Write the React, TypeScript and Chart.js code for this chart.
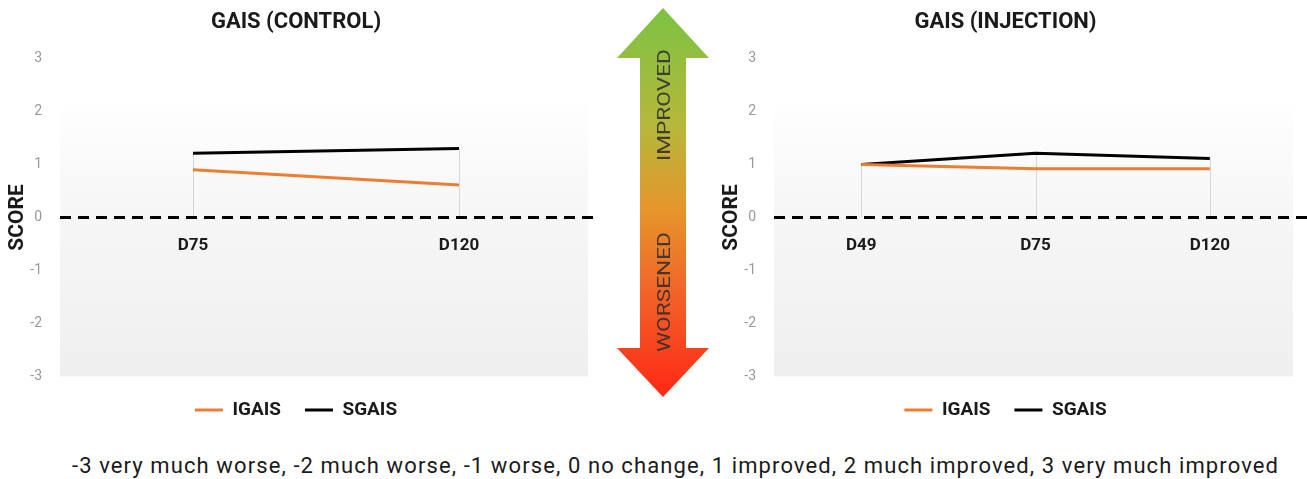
import React, { useEffect, useRef } from 'react';
import { Chart, registerables } from 'chart.js';

Chart.register(...registerables);

// ---- data ----
const controlDays = ['D75', 'D120'];
const controlIGAIS = [0.9, 0.61];
const controlSGAIS = [1.21, 1.3];

const injectionDays = ['D49', 'D75', 'D120'];
const injectionIGAIS = [1.0, 0.92, 0.92];
const injectionSGAIS = [1.0, 1.21, 1.11];

const seriesNames = ['IGAIS', 'SGAIS'];
const seriesColors = ['#ED7D31', '#000000'];
const yMin = -3;
const yMax = 3;
const yStep = 1;

const titles = ['GAIS (CONTROL)', 'GAIS (INJECTION)'];
const yTitle = 'SCORE';
const arrowUpText = 'IMPROVED';
const arrowDownText = 'WORSENED';
const footnote =
  '-3 very much worse, -2 much worse, -1 worse, 0 no change, 1 improved, 2 much improved, 3 very much improved';

const FONT = 'Roboto, "DejaVu Sans Condensed", sans-serif';

const decorPlugin = {
  id: 'decor',
  beforeDraw(chart: any) {
    const { ctx, chartArea, scales } = chart;
    const y = scales.y;
    const top = y.getPixelForValue(2.3);
    const zero = y.getPixelForValue(0);
    const g = ctx.createLinearGradient(0, top, 0, chartArea.bottom);
    g.addColorStop(0, '#ffffff');
    g.addColorStop(Math.max(0.01, (zero - top) / (chartArea.bottom - top)), '#f6f6f6');
    g.addColorStop(1, '#efefef');
    ctx.save();
    ctx.fillStyle = g;
    ctx.fillRect(chartArea.left, top, chartArea.right - chartArea.left - 4, chartArea.bottom - top);
    ctx.restore();
  },
  beforeDatasetsDraw(chart: any) {
    const { ctx, chartArea, scales, data } = chart;
    const x = scales.x;
    const y = scales.y;
    const zero = y.getPixelForValue(0);
    ctx.save();
    ctx.strokeStyle = '#d6d6d6';
    ctx.lineWidth = 1;
    data.labels.forEach((_: any, i: number) => {
      const maxV = Math.max(...data.datasets.map((d: any) => d.data[i]));
      const px = Math.round(x.getPixelForValue(i)) + 0.5;
      ctx.beginPath();
      ctx.moveTo(px, y.getPixelForValue(maxV));
      ctx.lineTo(px, zero);
      ctx.stroke();
    });
    ctx.strokeStyle = '#000';
    ctx.lineWidth = 3;
    ctx.setLineDash([11, 7]);
    ctx.beginPath();
    ctx.moveTo(chartArea.left, zero);
    ctx.lineTo(chart.width, zero);
    ctx.stroke();
    ctx.restore();
  },
};

function GaisChart(props: {
  title: string;
  labels: string[];
  igais: number[];
  sgais: number[];
  width: number;
  height: number;
  padRight: number;
}) {
  const ref = useRef<HTMLCanvasElement | null>(null);
  useEffect(() => {
    if (!ref.current) return;
    const values = [props.igais, props.sgais];
    const chart = new Chart(ref.current, {
      type: 'line',
      data: {
        labels: props.labels,
        datasets: seriesNames.map((name, i) => ({
          label: name,
          data: values[i],
          borderColor: seriesColors[i],
          backgroundColor: seriesColors[i],
          borderWidth: 3,
          pointRadius: 0,
          tension: 0,
        })),
      },
      options: {
        responsive: false,
        animation: false,
        events: [],
        layout: { padding: { left: 0, right: props.padRight, top: 0, bottom: 0.5 } },
        plugins: {
          tooltip: { enabled: false },
          title: {
            display: true,
            text: props.title,
            color: '#1a1a1a',
            font: { family: FONT, size: 22, weight: 'bold' },
            padding: { top: 9, bottom: 23 },
          },
          legend: {
            position: 'bottom',
            labels: {
              usePointStyle: true,
              pointStyle: 'line',
              pointStyleWidth: 28,
              padding: 24,
              color: '#1a1a1a',
              font: { family: FONT, size: 19, weight: 'bold' },
            },
          },
        },
        scales: {
          x: {
            type: 'category',
            position: { y: 0 } as any,
            offset: true,
            grid: { display: false, drawTicks: false },
            border: { display: false },
            ticks: {
              color: '#1a1a1a',
              padding: 18,
              font: { family: FONT, size: 17, weight: 'bold' },
            },
          },
          y: {
            min: yMin,
            max: yMax,
            grid: { display: false, drawTicks: false },
            border: { display: false },
            afterFit: (s: any) => {
              s.width = 60;
            },
            ticks: {
              stepSize: yStep,
              color: '#999999',
              padding: 18,
              font: { family: FONT, size: 14 },
            },
            title: {
              display: true,
              text: yTitle,
              color: '#1a1a1a',
              font: { family: FONT, size: 21, weight: 'bold' },
              padding: { top: 5.4, bottom: 1 },
            },
          },
        },
      },
      plugins: [decorPlugin],
    });
    return () => chart.destroy();
  }, []);
  return <canvas ref={ref} width={props.width} height={props.height} style={{ display: 'block' }} />;
}

function Arrow() {
  return (
    <svg width={110} height={410} style={{ position: 'absolute', left: 608, top: 0 }}>
      <defs>
        <linearGradient id="arrowGrad" x1="0" y1="0" x2="0" y2="1">
          <stop offset="0" stopColor="#7cc243" />
          <stop offset="0.3" stopColor="#b5b83b" />
          <stop offset="0.52" stopColor="#e6952c" />
          <stop offset="0.78" stopColor="#f45826" />
          <stop offset="1" stopColor="#ff2814" />
        </linearGradient>
      </defs>
      <polygon
        points="55,8 101,58 78,58 78,348 101,348 55,397 9,348 32,348 32,58 9,58"
        fill="url(#arrowGrad)"
      />
      <text
        x={0}
        y={0}
        transform="translate(62,105) rotate(-90)"
        textAnchor="middle"
        fontFamily={FONT}
        fontSize={18}
        fill="#2a2a2a"
        fillOpacity={0.85}
        textLength={112}
        lengthAdjust="spacingAndGlyphs"
      >
        {arrowUpText}
      </text>
      <text
        x={0}
        y={0}
        transform="translate(62,292) rotate(-90)"
        textAnchor="middle"
        fontFamily={FONT}
        fontSize={18}
        fill="#2a2a2a"
        fillOpacity={0.85}
        textLength={120}
        lengthAdjust="spacingAndGlyphs"
      >
        {arrowDownText}
      </text>
    </svg>
  );
}

export default function App() {
  return (
    <div style={{ position: 'absolute', left: 0, top: 0, width: 1307, height: 479, background: '#fff', overflow: 'hidden' }}>
      <div style={{ position: 'absolute', left: 0, top: 0 }}>
        <GaisChart title={titles[0]} labels={controlDays} igais={controlIGAIS} sgais={controlSGAIS} width={600} height={430} padRight={8} />
      </div>
      <div style={{ position: 'absolute', left: 714, top: 0 }}>
        <GaisChart title={titles[1]} labels={injectionDays} igais={injectionIGAIS} sgais={injectionSGAIS} width={593} height={430} padRight={10} />
      </div>
      <Arrow />
      <div
        style={{
          position: 'absolute',
          left: 22,
          top: 453,
          width: 1307,
          textAlign: 'center',
          fontFamily: FONT,
          fontSize: 22,
          letterSpacing: '1.1px',
          lineHeight: '26px',
          color: '#1a1a1a',
          whiteSpace: 'nowrap',
        }}
      >
        {footnote}
      </div>
    </div>
  );
}
